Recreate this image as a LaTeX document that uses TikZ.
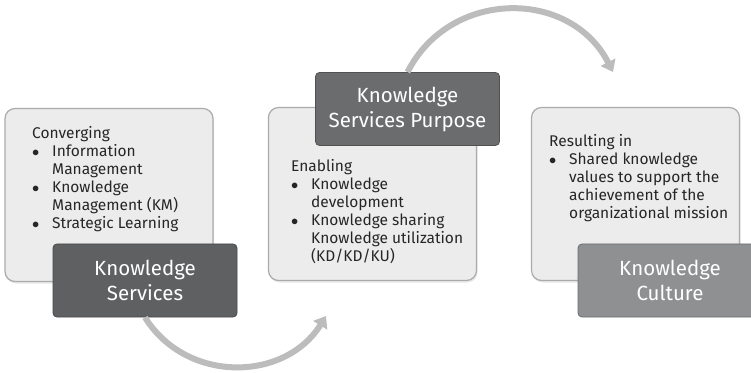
\documentclass[tikz,border=0pt]{standalone}
\usepackage{fontspec}
\setmainfont{Fira Sans}
\usetikzlibrary{arrows.meta,shadows}

\definecolor{boxfill}{HTML}{ECECED}
\definecolor{boxline}{HTML}{ABABAB}
\definecolor{darkA}{HTML}{5F6062}
\definecolor{darkB}{HTML}{6B6C6E}
\definecolor{darkC}{HTML}{8F9092}
\definecolor{flowgray}{HTML}{BCBCBC}

\begin{document}
\begin{tikzpicture}[x=1pt,y=1pt,
  panel/.style={draw=boxline, line width=1.2pt, fill=boxfill, rounded corners=10pt,
    minimum width=208pt, minimum height=173pt, inner sep=0pt,
    drop shadow={opacity=0.18, shadow xshift=1pt, shadow yshift=-2pt}},
  title/.style={draw=#1!75!black, line width=0.8pt, fill=#1, rounded corners=4pt,
    minimum width=184pt, minimum height=73pt, inner sep=0pt, text=white,
    align=center, font=\fontsize{20.5}{25}\selectfont},
  body/.style={anchor=north west, inner sep=0pt, align=left,
    font=\fontsize{15.5}{18}\selectfont, text=black!85},
  flow/.style={draw=flowgray, line width=6pt, -{Triangle[length=11pt,width=16pt]}}]

\newcommand\itm{\makebox[20pt][l]{$\bullet$}}
\newcommand\cnt{\hspace*{20pt}}

\useasboundingbox (0,0) rectangle (751,372);

\node[panel] (conv) at (109,177) {};
\node[panel] (enab) at (372.5,178) {};
\node[panel] (resu) at (635.5,178) {};

\node[title=darkA] (ks) at (145,91.5) {Knowledge\\Services};
\node[title=darkB] (ksp) at (407.5,263) {Knowledge\\Services Purpose};
\node[title=darkC] (kc) at (670,91.5) {Knowledge\\Culture};

\node[body] (convText) at (32,246) {Converging\\\itm Information\\\cnt Management\\\itm Knowledge\\\cnt Management (KM)\\\itm Strategic Learning};
\node[body] (enabText) at (291,213) {Enabling\\\itm Knowledge\\\cnt development\\\itm Knowledge sharing\\\cnt Knowledge utilization\\\cnt (KD/KD/KU)};
\node[body] (resuText) at (549,238) {Resulting in\\\itm Shared knowledge\\\cnt values to support the\\\cnt achievement of the\\\cnt organizational mission};

\coordinate (intoPurpose) at (326,56);
\coordinate (intoCulture) at (613,300);

\draw[flow] (ks.south) to[out=-58,in=-122,looseness=1.1] (intoPurpose);
\draw[flow] (ksp.north) to[out=63,in=117,looseness=1.17] (intoCulture);

\end{tikzpicture}
\end{document}
